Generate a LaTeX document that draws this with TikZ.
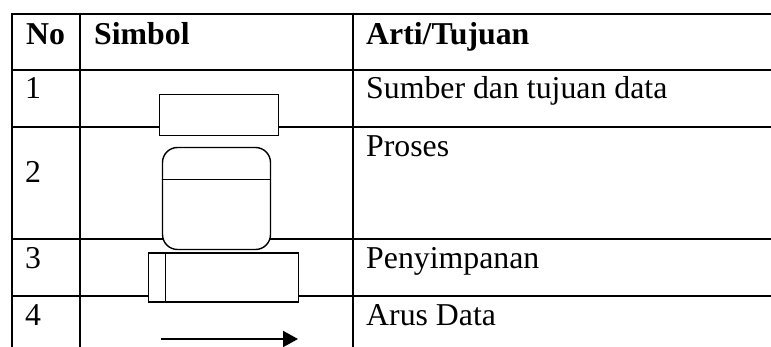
\documentclass[tikz,border=0pt]{standalone}
\usepackage{fontspec}
\setmainfont{Liberation Serif}
\usetikzlibrary{arrows.meta}
\begin{document}
\begin{tikzpicture}[x=1pt,y=-1pt,
  grid/.style={line width=2pt},
  sym/.style={draw, line width=1.4pt, fill=white, inner sep=0pt},
  symline/.style={line width=1.4pt},
  txt/.style={anchor=base west, inner sep=0pt, font=\fontsize{31.8}{36}\selectfont},
  hdr/.style={anchor=base west, inner sep=0pt, font=\fontsize{31.8}{36}\selectfont\bfseries},
  flow/.style={line width=2pt, -{Triangle[length=15pt,width=16pt]}}]
\useasboundingbox (0,0) rectangle (771,347);
% table rules
\draw[grid] (11,14) -- (771,14);
\draw[grid] (11,70) -- (771,70);
\draw[grid] (11,127) -- (771,127);
\draw[grid] (11,239) -- (771,239);
\draw[grid] (11,296) -- (771,296);
\draw[grid] (12,13) -- (12,347);
\draw[grid] (80,13) -- (80,347);
\draw[grid] (352.7,13) -- (352.7,347);
% header
\node[hdr] (hno) at (26,45) {No};
\node[hdr] (hsym) at (94,45) {Simbol};
\node[hdr] (hart) at (366,45) {Arti/Tujuan};
% numbers
\node[txt] (n1) at (25,99) {1};
\node[txt] (n2) at (25,183) {2};
\node[txt] (n3) at (25,269) {3};
\node[txt] (n4) at (25,325) {4};
% descriptions
\node[txt] (d1) at (366,99) {Sumber dan tujuan data};
\node[txt] (d2) at (366,157) {Proses};
\node[txt] (d3) at (366,269) {Penyimpanan};
\node[txt] (d4) at (366,325) {Arus Data};
% symbols
\node[sym, minimum width=119pt, minimum height=41pt] (src) at (219,115) {};
\node[sym, rounded corners=15pt, minimum width=108pt, minimum height=102pt] (proc) at (216.5,198.5) {};
\draw[symline] ([yshift=-33pt]proc.north west) -- ([yshift=-33pt]proc.north east);
\node[sym, minimum width=150pt, minimum height=49pt] (store) at (223.2,277.5) {};
\draw[symline] ([xshift=18pt]store.north west) -- ([xshift=18pt]store.south west);
\coordinate (a1) at (161,339);
\coordinate (a2) at (298,339);
\draw[flow] (a1) -- (a2);
\end{tikzpicture}
\end{document}
